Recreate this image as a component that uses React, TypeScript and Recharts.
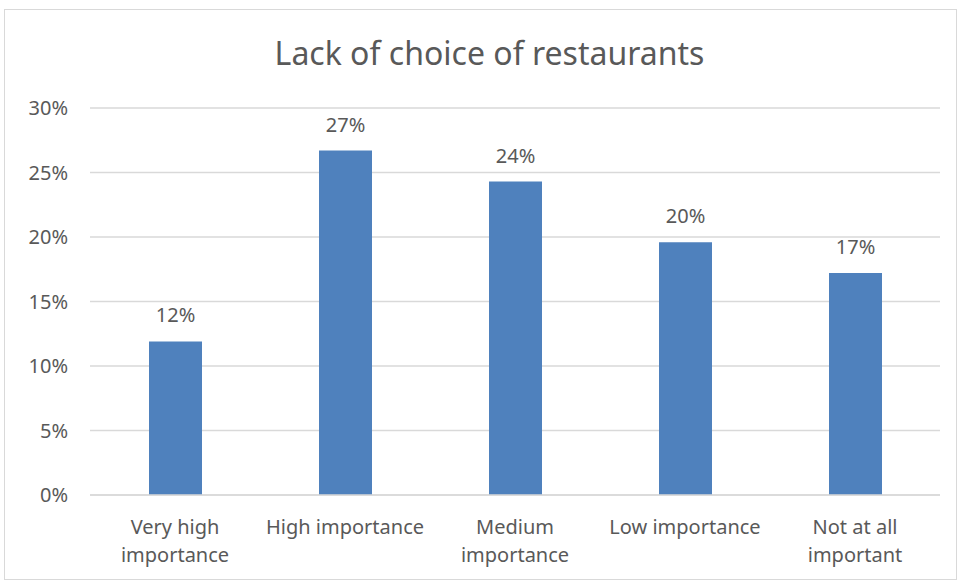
import { Bar, BarChart, CartesianGrid, LabelList, XAxis, YAxis } from "recharts";

const categories = [
  "Very high importance",
  "High importance",
  "Medium importance",
  "Low importance",
  "Not at all important",
];
const categoryLines = [
  ["Very high", "importance"],
  ["High importance"],
  ["Medium", "importance"],
  ["Low importance"],
  ["Not at all", "important"],
];
const shares = [11.9, 26.7, 24.3, 19.6, 17.2];
const yTicks = [0, 5, 10, 15, 20, 25, 30];

const data = categories.map((name, i) => ({ name, value: shares[i] }));

const font = "'Noto Sans', 'Open Sans', sans-serif";
const textColor = "#595959";

const CategoryTick = (props: any) => {
  const { x, y, index } = props;
  const lines = categoryLines[index] || [];
  return (
    <text x={x} y={y} textAnchor="middle" fill={textColor} fontSize={20} fontFamily={font}>
      {lines.map((l, i) => (
        <tspan key={i} x={x} dy={i === 0 ? 31 : 28}>
          {l}
        </tspan>
      ))}
    </text>
  );
};

export default function App() {
  return (
    <div style={{ position: "absolute", left: 0, top: 0, width: 959, height: 583, background: "#fff" }}>
      <div
        style={{
          position: "absolute",
          left: 4,
          top: 9,
          width: 953,
          height: 571,
          border: "1px solid #d9d9d9",
          boxSizing: "border-box",
        }}
      />
      <div
        style={{
          position: "absolute",
          left: 0,
          width: 959,
          top: 31,
          textAlign: "center",
          fontFamily: font,
          fontSize: 32,
          color: textColor,
          paddingLeft: 20,
          boxSizing: "border-box",
        }}
      >
        Lack of choice of restaurants
      </div>
      <div style={{ position: "absolute", left: 0, top: 0 }}>
        <BarChart
          width={959}
          height={583}
          data={data}
          margin={{ top: 108, right: 19, bottom: 58, left: 0 }}
        >
          <CartesianGrid vertical={false} stroke="#d9d9d9" strokeWidth={1.5} />
          <XAxis
            dataKey="name"
            height={30}
            axisLine={{ stroke: "#d9d9d9", strokeWidth: 1.5 }}
            tickLine={false}
            tick={<CategoryTick />}
            interval={0}
          />
          <YAxis
            width={90}
            domain={[0, 30]}
            ticks={yTicks}
            axisLine={false}
            tickLine={false}
            tickSize={0}
            tickMargin={22}
            tickFormatter={(v: number) => `${v}%`}
            tick={{ fill: textColor, fontSize: 20, fontFamily: font }}
          />
          <Bar dataKey="value" fill="#4f81bd" barSize={53} isAnimationActive={false}>
            <LabelList
              dataKey="value"
              position="top"
              offset={19}
              formatter={(v: any) => `${Math.round(v)}%`}
              fill={textColor}
              fontSize={20}
              fontFamily={font}
            />
          </Bar>
        </BarChart>
      </div>
    </div>
  );
}
